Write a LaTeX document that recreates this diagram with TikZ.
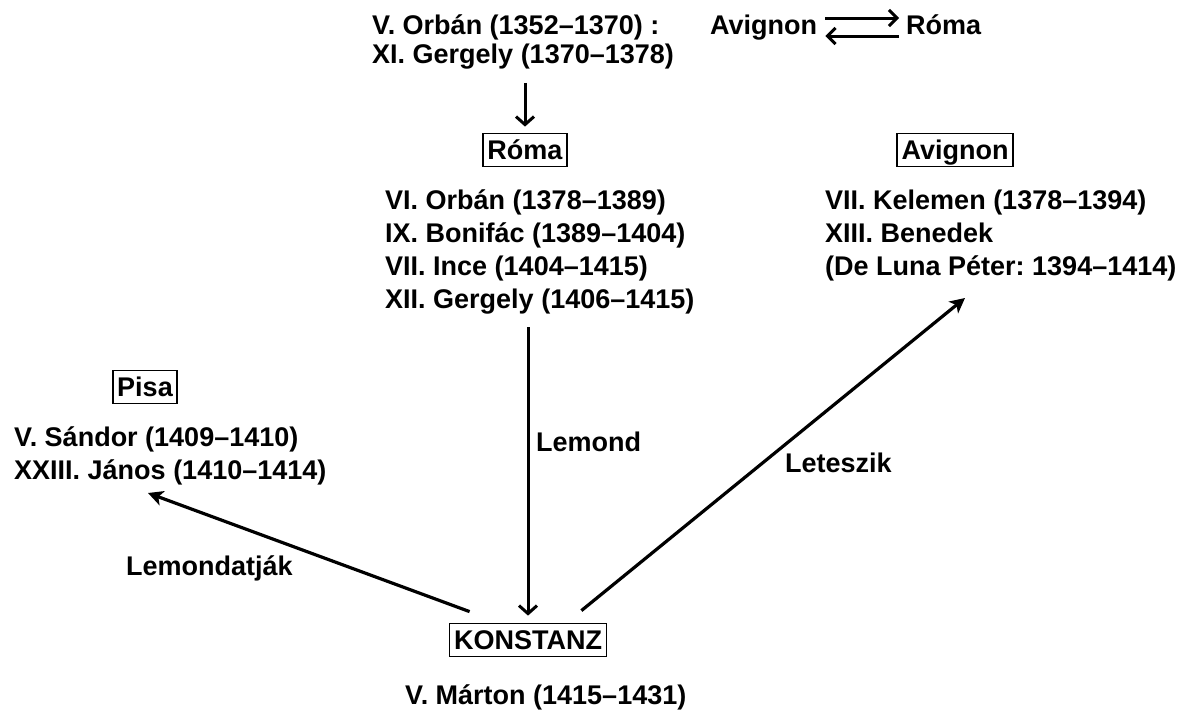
\documentclass[tikz,border=0pt]{standalone}
\usepackage{fontspec}
\setmainfont{Liberation Sans}
\usetikzlibrary{arrows.meta,calc}
\begin{document}
\frenchspacing
\begin{tikzpicture}[x=1pt,y=-1pt,
  txt/.style={inner sep=0pt, font=\fontsize{27}{33}\selectfont\bfseries},
  tighttxt/.style={inner sep=0pt, font=\fontsize{27}{29}\selectfont\bfseries},
  place/.style={draw, line width=1.8pt, inner xsep=4.5pt, inner ysep=7pt, text height=19pt, text depth=0pt, font=\fontsize{27}{33}\selectfont\bfseries},
  varr/.style={line width=3pt, -{Straight Barb[length=8pt,width=18pt]}},
  harr/.style={line width=3pt, -{Straight Barb[length=8pt,width=16pt]}},
  darr/.style={line width=3.2pt, -{Stealth[length=15pt,width=15pt,inset=4pt]}}]
\useasboundingbox[fill=white] (0,0) rectangle (1189,718);

% top
\node[tighttxt, anchor=base west] (top) at (372,34) {\begin{tabular}[t]{@{}l@{}}V. Orbán (1352–1370) :\\XI. Gergely (1370–1378)\end{tabular}};
\node[txt, anchor=base west] (av0) at (710,34) {Avignon};
\node[txt, anchor=base west] (ro0) at (906,34) {Róma};
\draw[harr] ($(av0.base east)+(8,-16)$) -- ($(ro0.base west)+(-7,-16)$);
\draw[harr] ($(ro0.base west)+(-7,2)$) -- ($(av0.base east)+(8,2)$);

% boxes
\node[place] (roma) at (525,150) {Róma};
\node[place] (avig) at (955,150) {Avignon};
\node[place] (pisa) at (145,387) {Pisa};
\node[place] (konst) at (528,640) {KONSTANZ};

\draw[varr] ([yshift=-11pt]top.south -| roma.north) -- ([yshift=6pt]roma.north);

% lists
\node[txt, anchor=base west] (romalist) at (385,209) {\begin{tabular}[t]{@{}l@{}}VI. Orbán (1378–1389)\\IX. Bonifác (1389–1404)\\VII. Ince (1404–1415)\\XII. Gergely (1406–1415)\end{tabular}};
\node[txt, anchor=base west] (aviglist) at (825,209) {\begin{tabular}[t]{@{}l@{}}VII. Kelemen (1378–1394)\\XIII. Benedek\\(De Luna Péter: 1394–1414)\end{tabular}};
\node[txt, anchor=base west] (pisalist) at (14,446) {\begin{tabular}[t]{@{}l@{}}V. Sándor (1409–1410)\\XXIII. János (1410–1414)\end{tabular}};
\node[txt, anchor=base west] (marton) at (405,704) {V. Márton (1415–1431)};

% labels
\node[txt, anchor=base west] (lemond) at (536,451) {Lemond};
\node[txt, anchor=base west] (letesz) at (785,472) {Leteszik};
\node[txt, anchor=base west] (lemdat) at (126,575) {Lemondatják};

% connectors
\coordinate (phead) at (148,493);
\coordinate (ahead) at (965,298);
\draw[varr] ([yshift=-9pt]romalist.south -| konst.north) -- ([yshift=7pt]konst.north);
\draw[darr] ([shift={(21,-11)}]konst.north west) -- (phead);
\draw[darr] ([shift={(-26,-12)}]konst.north east) -- (ahead);
\end{tikzpicture}
\end{document}
